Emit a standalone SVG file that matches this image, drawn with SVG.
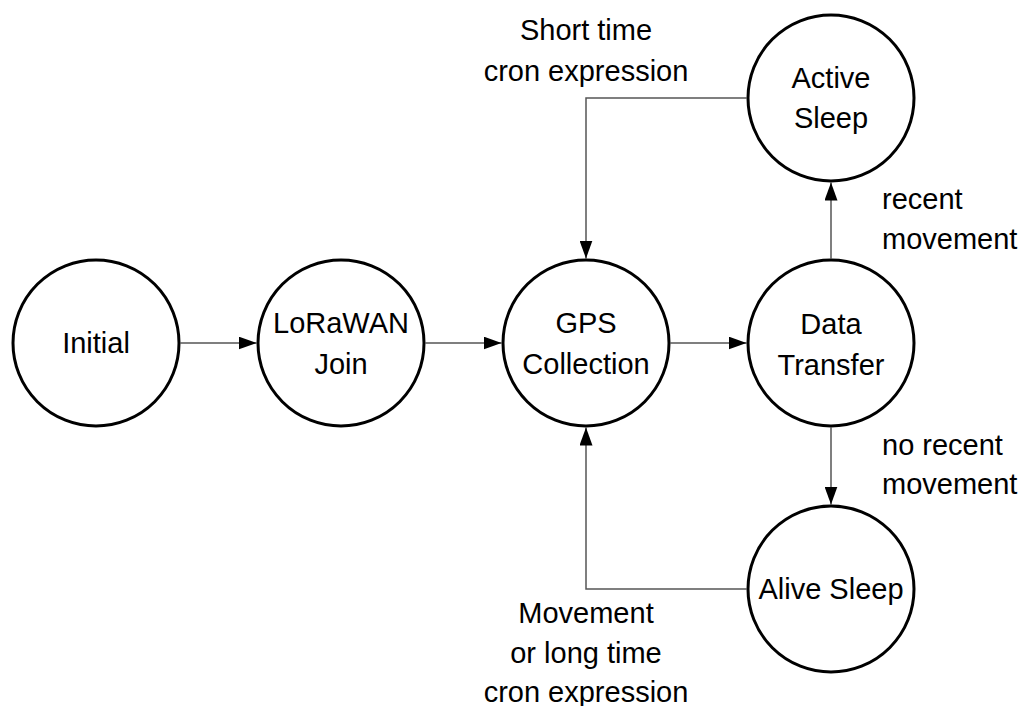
<svg xmlns="http://www.w3.org/2000/svg" width="1026" height="706" viewBox="0 0 1026 706">
<style>
.node circle{fill:#fff;stroke:#000;stroke-width:3}
text{font-family:"Liberation Sans",Arial,sans-serif;font-size:29px;fill:#000}
.c{text-anchor:middle}
.edge{fill:none;stroke:#555;stroke-width:1.5;marker-end:url(#arr)}
</style>
<defs>
<marker id="arr" viewBox="0 0 18 13" markerUnits="userSpaceOnUse" markerWidth="18" markerHeight="13" refX="18" refY="6.5" orient="auto">
<path d="M0,0 L18,6.5 L0,13 z" fill="#000"/>
</marker>
</defs>
<rect width="1026" height="706" fill="#fff"/>
<g id="connectors">
<path class="edge" d="M180.5,343 H256.5"/>
<path class="edge" d="M425.5,343 H501.5"/>
<path class="edge" d="M670.5,343 H746.5"/>
<path class="edge" d="M831,258.5 V182.5"/>
<path class="edge" d="M831,427.5 V504.5"/>
<path class="edge" d="M746.5,98 H586 V258.5"/>
<path class="edge" d="M746.5,589 H586 V427.5"/>
<text class="c" x="586" y="40">Short time</text>
<text class="c" x="586" y="81">cron expression</text>
<text x="882" y="209">recent</text>
<text x="882" y="249">movement</text>
<text x="882" y="455">no recent</text>
<text x="882" y="494">movement</text>
<text class="c" x="586" y="623">Movement</text>
<text class="c" x="586" y="663">or long time</text>
<text class="c" x="586" y="702">cron expression</text>
</g>
<g id="initial" class="node"><circle cx="96" cy="343" r="83"/><text class="c" x="96" y="353">Initial</text></g>
<g id="lorawan" class="node"><circle cx="341" cy="343" r="83"/><text class="c" x="341" y="333">LoRaWAN</text><text class="c" x="341" y="374">Join</text></g>
<g id="gps" class="node"><circle cx="586" cy="343" r="83"/><text class="c" x="586" y="333">GPS</text><text class="c" x="586" y="374">Collection</text></g>
<g id="data" class="node"><circle cx="831" cy="343" r="83"/><text class="c" x="831" y="334">Data</text><text class="c" x="831" y="375">Transfer</text></g>
<g id="active" class="node"><circle cx="831" cy="98" r="83"/><text class="c" x="831" y="88">Active</text><text class="c" x="831" y="128">Sleep</text></g>
<g id="alive" class="node"><circle cx="831" cy="589" r="83"/><text class="c" x="831" y="599">Alive Sleep</text></g>
</svg>
